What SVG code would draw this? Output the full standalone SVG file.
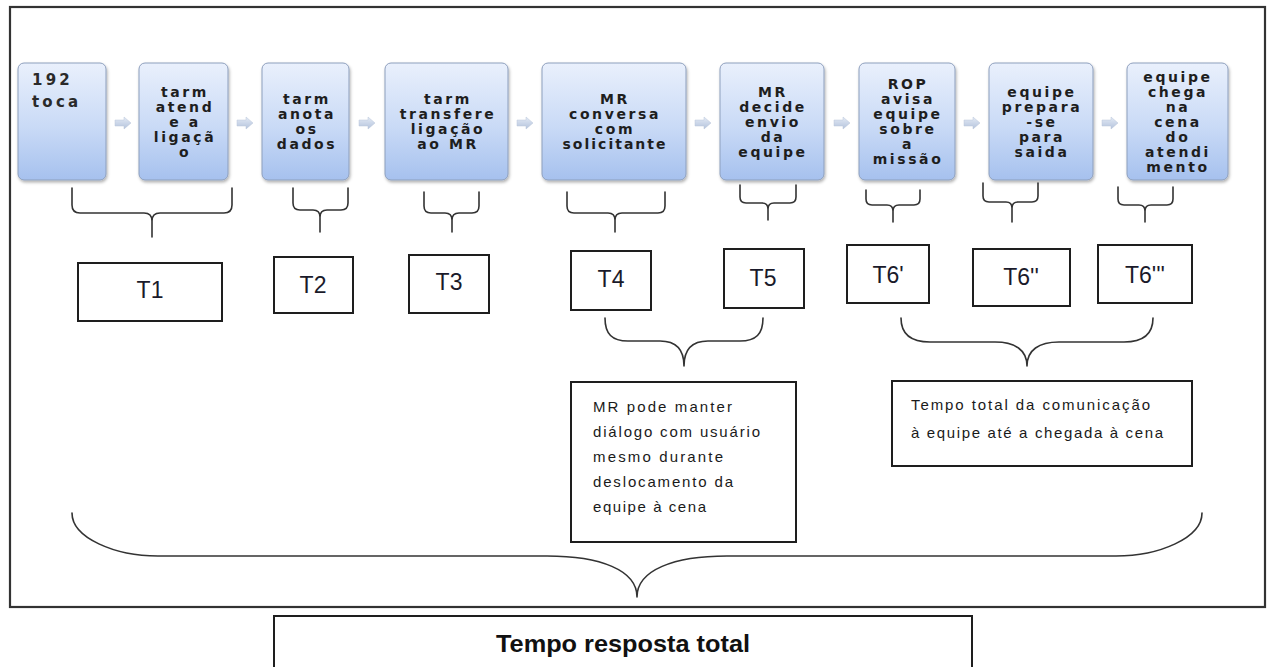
<svg xmlns="http://www.w3.org/2000/svg" width="1272" height="667" viewBox="0 0 1272 667">
<defs>
<linearGradient id="g" x1="0" y1="0" x2="0" y2="1">
<stop offset="0" stop-color="#e9f0fc"/>
<stop offset="0.55" stop-color="#c9daf6"/>
<stop offset="1" stop-color="#a6c1ee"/>
</linearGradient>
<linearGradient id="ga" x1="0" y1="0" x2="0" y2="1">
<stop offset="0" stop-color="#e4ebf6"/>
<stop offset="1" stop-color="#b4c3dc"/>
</linearGradient>
<filter id="sh" x="-10%" y="-10%" width="125%" height="125%">
<feDropShadow dx="1" dy="2" stdDeviation="1.5" flood-color="#000" flood-opacity="0.3"/>
</filter>
<path id="arr" d="M0,-3 L9,-3 L9,-6 L16,0 L9,6 L9,3 L0,3 Z"/>
</defs>
<style>
.box{fill:url(#g);stroke:#8d9fbd;stroke-width:1;filter:url(#sh)}
.bt{font-family:"DejaVu Sans",Verdana,sans-serif;font-weight:bold;font-size:14px;letter-spacing:2.6px;fill:#1e1e1e;text-anchor:middle}
.bt1{font-family:"DejaVu Sans",Verdana,sans-serif;font-weight:bold;font-size:15px;letter-spacing:3.2px;fill:#2a2a2a}
.tb{fill:#fff;stroke:#1e1e1e;stroke-width:2}
.tl{font-family:"Liberation Sans",Arial,sans-serif;font-size:23px;fill:#1a1a2a;text-anchor:middle}
.nt{font-family:"Liberation Sans",Arial,sans-serif;font-size:15px;fill:#1a1a1a}
.br{fill:none;stroke:#333;stroke-width:1.6;stroke-linecap:round;stroke-linejoin:round}
.frame{fill:none;stroke:#333;stroke-width:2.2}
.arrow{fill:url(#ga);stroke:#b8c4d8;stroke-width:0.5}
</style>
<rect class="frame" x="10" y="7" width="1255" height="600"/>

<g id="connectors">
<use href="#arr" class="arrow" x="115" y="123"/>
<use href="#arr" class="arrow" x="237" y="123"/>
<use href="#arr" class="arrow" x="359" y="123"/>
<use href="#arr" class="arrow" x="517" y="123"/>
<use href="#arr" class="arrow" x="695" y="123"/>
<use href="#arr" class="arrow" x="834" y="123"/>
<use href="#arr" class="arrow" x="964" y="123"/>
<use href="#arr" class="arrow" x="1102" y="123"/>
<path class="br" d="M72,188 L72,205 Q72,213 80,213 L144,213 Q152,213 152,221 L152,237 M152,221 Q152,213 160,213 L224,213 Q232,213 232,205 L232,188"/>
<path class="br" d="M293,188 L293,203 Q293,210 300,210 L313,210 Q320,210 320,217 L320,232 M320,217 Q320,210 327,210 L341,210 Q348,210 348,203 L348,188"/>
<path class="br" d="M424,192 L424,206 Q424,213 431,213 L445,213 Q452,213 452,220 L452,232 M452,220 Q452,213 459,213 L472,213 Q479,213 479,206 L479,192"/>
<path class="br" d="M567,192 L567,206 Q567,213 574,213 L608,213 Q615,213 615,220 L615,232 M615,220 Q615,213 622,213 L658,213 Q665,213 665,206 L665,192"/>
<path class="br" d="M740,185 L740,197 Q740,203 746,203 L762,203 Q768,203 768,209 L768,220 M768,209 Q768,203 774,203 L790,203 Q796,203 796,197 L796,185"/>
<path class="br" d="M866,190 L866,199 Q866,205 872,205 L887,205 Q893,205 893,211 L893,222 M893,211 Q893,205 899,205 L914,205 Q920,205 920,199 L920,190"/>
<path class="br" d="M983,183 L983,196 Q983,202 989,202 L1006,202 Q1012,202 1012,208 L1012,222 M1012,208 Q1012,202 1018,202 L1032,202 Q1038,202 1038,196 L1038,183"/>
<path class="br" d="M1118,187 L1118,199 Q1118,205 1124,205 L1139,205 Q1145,205 1145,211 L1145,222 M1145,211 Q1145,205 1151,205 L1167,205 Q1173,205 1173,199 L1173,187"/>
<path class="br" d="M605,318 C605,334 612,341 628,341 L660,341 C676,341 684,350 684,366 C684,350 692,341 708,341 L740,341 C756,341 763,334 763,318"/>
<path class="br" d="M901,318 C901,334 910,342 930,342 L995,342 C1015,342 1027,350 1027,366 C1027,350 1039,342 1059,342 L1124,342 C1144,342 1153,334 1153,318"/>
<path class="br" d="M72,513 C72,538 115,556 158,556 L547,556 C600,556 637,570 637,597 C637,570 674,556 727,556 L1116,556 C1159,556 1202,538 1202,513"/>
</g>

<g id="n1"><rect class="box" x="18" y="63" width="88" height="117" rx="6"/>
<text class="bt1" x="32" y="85">192</text><text class="bt1" x="32" y="107">toca</text></g>
<g id="n2"><rect class="box" x="139" y="63" width="89" height="117" rx="6"/>
<text class="bt" x="185" y="96.5">tarm</text><text class="bt" x="185" y="111.5">atend</text><text class="bt" x="185" y="126.5">e a</text><text class="bt" x="185" y="141.5">ligaçã</text><text class="bt" x="185" y="156.5">o</text></g>
<g id="n3"><rect class="box" x="262" y="63" width="87" height="117" rx="6"/>
<text class="bt" x="307" y="104">tarm</text><text class="bt" x="307" y="119">anota</text><text class="bt" x="307" y="134">os</text><text class="bt" x="307" y="149">dados</text></g>
<g id="n4"><rect class="box" x="385" y="63" width="123" height="117" rx="6"/>
<text class="bt" x="448" y="104">tarm</text><text class="bt" x="448" y="119">transfere</text><text class="bt" x="448" y="134">ligação</text><text class="bt" x="448" y="149">ao MR</text></g>
<g id="n5"><rect class="box" x="542" y="63" width="144" height="117" rx="6"/>
<text class="bt" x="615" y="104">MR</text><text class="bt" x="615" y="119">conversa</text><text class="bt" x="615" y="134">com</text><text class="bt" x="614" y="149" textLength="103" lengthAdjust="spacing" style="letter-spacing:0">solicitante</text></g>
<g id="n6"><rect class="box" x="720" y="63" width="104" height="117" rx="6"/>
<text class="bt" x="773" y="96.5">MR</text><text class="bt" x="773" y="111.5">decide</text><text class="bt" x="773" y="126.5">envio</text><text class="bt" x="773" y="141.5">da</text><text class="bt" x="773" y="156.5">equipe</text></g>
<g id="n7"><rect class="box" x="859" y="63" width="96" height="117" rx="6"/>
<text class="bt" x="908" y="89">ROP</text><text class="bt" x="908" y="104">avisa</text><text class="bt" x="908" y="119">equipe</text><text class="bt" x="908" y="134">sobre</text><text class="bt" x="908" y="149">a</text><text class="bt" x="908" y="164">missão</text></g>
<g id="n8"><rect class="box" x="989" y="63" width="104" height="117" rx="6"/>
<text class="bt" x="1042" y="96.5">equipe</text><text class="bt" x="1042" y="111.5">prepara</text><text class="bt" x="1042" y="126.5">-se</text><text class="bt" x="1042" y="141.5">para</text><text class="bt" x="1042" y="156.5">saida</text></g>
<g id="n9"><rect class="box" x="1127" y="63" width="101" height="117" rx="6"/>
<text class="bt" x="1178" y="81.5">equipe</text><text class="bt" x="1178" y="96.5">chega</text><text class="bt" x="1178" y="111.5">na</text><text class="bt" x="1178" y="126.5">cena</text><text class="bt" x="1178" y="141.5">do</text><text class="bt" x="1178" y="156.5">atendi</text><text class="bt" x="1178" y="171.5">mento</text></g>

<g id="t1"><rect class="tb" x="78" y="263" width="144" height="58"/><text class="tl" x="150" y="298">T1</text></g>
<g id="t2"><rect class="tb" x="274" y="257" width="79" height="56"/><text class="tl" x="313" y="293">T2</text></g>
<g id="t3"><rect class="tb" x="409" y="255" width="80" height="58"/><text class="tl" x="449" y="290">T3</text></g>
<g id="t4"><rect class="tb" x="571" y="251" width="80" height="59"/><text class="tl" x="611" y="287">T4</text></g>
<g id="t5"><rect class="tb" x="724" y="249" width="80" height="59"/><text class="tl" x="763" y="286">T5</text></g>
<g id="t6a"><rect class="tb" x="847" y="245" width="82" height="58"/><text class="tl" x="888" y="283">T6'</text></g>
<g id="t6b"><rect class="tb" x="973" y="249" width="97" height="57"/><text class="tl" x="1021" y="285">T6''</text></g>
<g id="t6c"><rect class="tb" x="1098" y="245" width="94" height="58"/><text class="tl" x="1145" y="283">T6'''</text></g>

<g id="note1"><rect class="tb" x="571" y="382" width="225" height="160"/>
<text class="nt" x="593" y="412" textLength="139" lengthAdjust="spacing">MR pode  manter</text>
<text class="nt" x="593" y="437" textLength="167" lengthAdjust="spacing">diálogo  com  usuário</text>
<text class="nt" x="593" y="462" textLength="130" lengthAdjust="spacing">mesmo durante</text>
<text class="nt" x="593" y="487" textLength="140" lengthAdjust="spacing">deslocamento  da</text>
<text class="nt" x="593" y="512" textLength="113" lengthAdjust="spacing">equipe  à cena</text></g>

<g id="note2"><rect class="tb" x="892" y="381" width="300" height="85"/>
<text class="nt" x="911" y="410" textLength="239" lengthAdjust="spacing">Tempo total  da comunicação</text>
<text class="nt" x="911" y="438" textLength="252" lengthAdjust="spacing">à equipe  até a chegada  à cena</text></g>

<g id="total"><rect class="tb" x="274" y="616" width="698" height="70"/>
<text x="623" y="652" style="font-family:'Liberation Sans',Arial,sans-serif;font-weight:bold;font-size:24px;fill:#111;text-anchor:middle" textLength="254" lengthAdjust="spacingAndGlyphs">Tempo resposta total</text></g>
</svg>
